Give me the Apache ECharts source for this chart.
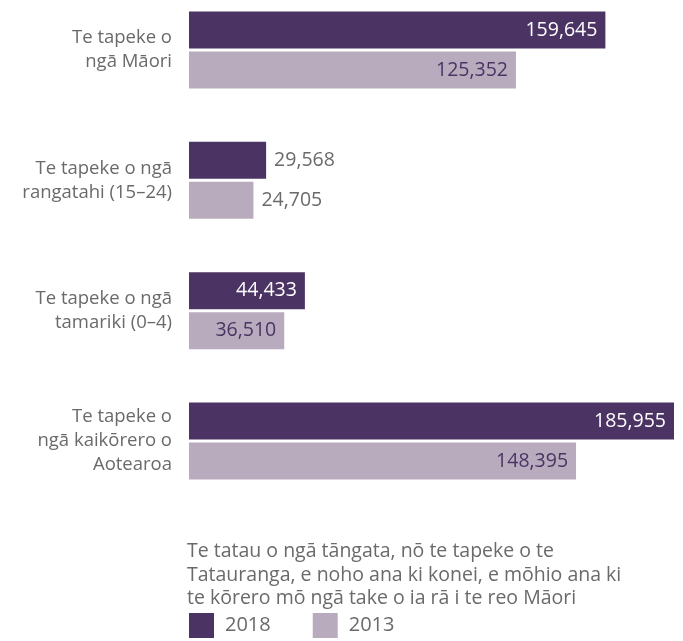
<!DOCTYPE html>
<html>
<head>
<meta charset="utf-8">
<script src="https://cdn.jsdelivr.net/npm/echarts@6/dist/echarts.min.js"></script>
<style>
  html, body { margin: 0; padding: 0; background: #fff; }
  #chart { width: 683px; height: 641px; }
</style>
</head>
<body>
<div id="chart"></div>
<script>
const categories = [
  'Te tapeke o\nngā Māori',
  'Te tapeke o ngā\nrangatahi (15–24)',
  'Te tapeke o ngā\ntamariki (0–4)',
  'Te tapeke o\nngā kaikōrero o\nAotearoa'
]
const values2018 = [159645, 29568, 44433, 185955]
const values2013 = [125352, 24705, 36510, 148395]
const seriesNames = ['2018', '2013']
const footnote = 'Te tatau o ngā tāngata, nō te tapeke o te\nTatauranga, e noho ana ki konei, e mōhio ana ki\nte kōrero mō ngā take o ia rā i te reo Māori'

const dark = '#4b3463'
const light = '#b9abbe'
const grey = '#6a6a6a'
const font = 'Open Sans'

// short bars get their number outside, long ones inside
const withLabels = (vals, insideColor) => vals.map(v => {
  const inside = v > 30000
  return {
    value: v,
    label: {
      position: inside ? 'insideRight' : 'right',
      color: inside ? insideColor : grey
    }
  }
})

const myChart = echarts.init(document.getElementById('chart'))
const option = {
  animation: false,
  grid: {
    left: 189,
    right: 9,
    top: 50,
    height: 391
  },
  xAxis: {
    type: 'value',
    min: 0,
    max: 'dataMax',
    show: false
  },
  yAxis: {
    type: 'category',
    inverse: true,
    boundaryGap: false,
    data: categories,
    axisLine: { show: false },
    axisTick: { show: false },
    axisLabel: {
      margin: 17,
      color: grey,
      fontFamily: font,
      fontSize: 18.5,
      lineHeight: 24,
      align: 'right'
    }
  },
  legend: {
    left: 189,
    top: 613,
    padding: 0,
    itemWidth: 25,
    itemHeight: 25,
    itemGap: 42,
    icon: 'rect',
    data: seriesNames,
    textStyle: {
      color: grey,
      fontFamily: font,
      fontSize: 20,
      padding: [10, 0, 0, 6]
    }
  },
  graphic: [{
    type: 'text',
    left: 187,
    top: 540,
    style: {
      text: footnote,
      fill: grey,
      font: '19.5px "Open Sans"',
      lineHeight: 23.5
    }
  }],
  series: [{
    name: seriesNames[0],
    type: 'bar',
    barWidth: 37,
    barGap: '8%',
    itemStyle: { color: dark },
    label: {
      show: true,
      distance: 8,
      fontFamily: font,
      fontSize: 19.5,
      formatter: p => p.value.toLocaleString('en-US')
    },
    data: withLabels(values2018, '#ffffff')
  }, {
    name: seriesNames[1],
    type: 'bar',
    barWidth: 37,
    barGap: '8%',
    itemStyle: { color: light },
    label: {
      show: true,
      distance: 8,
      fontFamily: font,
      fontSize: 19.5,
      formatter: p => p.value.toLocaleString('en-US')
    },
    data: withLabels(values2013, dark)
  }]
}
option && myChart.setOption(option)
</script>
</body>
</html>
